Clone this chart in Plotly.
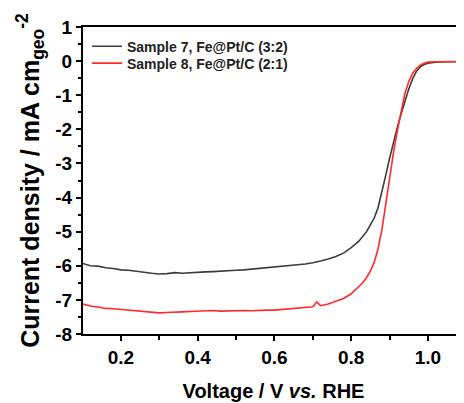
import plotly.graph_objects as go

# LSV curves
VOLTAGE = [0.10, 0.12, 0.14, 0.16, 0.18, 0.20, 0.22, 0.24, 0.26, 0.28,
           0.30, 0.32, 0.34, 0.36, 0.38, 0.40, 0.42, 0.44, 0.46, 0.48,
           0.50, 0.52, 0.54, 0.56, 0.58, 0.60, 0.62, 0.64, 0.66, 0.68,
           0.70, 0.71, 0.72, 0.74, 0.76, 0.78, 0.80, 0.82, 0.83, 0.84,
           0.85, 0.86, 0.87, 0.88, 0.89, 0.90, 0.91, 0.92, 0.93, 0.94,
           0.95, 0.96, 0.97, 0.98, 0.99, 1.00, 1.02, 1.05, 1.08, 1.10]

SAMPLE_7 = [-5.93, -6.00, -6.01, -6.06, -6.08, -6.12, -6.13, -6.17, -6.19, -6.22,
            -6.24, -6.23, -6.20, -6.22, -6.20, -6.19, -6.18, -6.17, -6.15, -6.14,
            -6.13, -6.12, -6.10, -6.09, -6.07, -6.05, -6.03, -6.01, -5.98, -5.95,
            -5.91, -5.89, -5.86, -5.80, -5.73, -5.63, -5.47, -5.28, -5.15, -5.00,
            -4.80, -4.60, -4.30, -3.85, -3.35, -2.85, -2.38, -1.95, -1.55, -1.18,
            -0.82, -0.52, -0.30, -0.17, -0.10, -0.06, -0.03, -0.02, -0.02, -0.02]

SAMPLE_8 = [-7.12, -7.18, -7.21, -7.25, -7.26, -7.28, -7.30, -7.32, -7.33, -7.36,
            -7.38, -7.37, -7.35, -7.35, -7.34, -7.33, -7.33, -7.31, -7.33, -7.32,
            -7.31, -7.31, -7.32, -7.30, -7.30, -7.30, -7.28, -7.27, -7.25, -7.23,
            -7.20, -7.06, -7.17, -7.12, -7.05, -6.96, -6.82, -6.62, -6.50, -6.35,
            -6.15, -5.90, -5.50, -4.95, -4.20, -3.35, -2.70, -2.05, -1.45, -0.95,
            -0.60, -0.36, -0.22, -0.12, -0.06, -0.03, -0.02, -0.01, -0.01, -0.01]

LABELS = ["Sample 7, Fe@Pt/C (3:2)", "Sample 8, Fe@Pt/C (2:1)"]
COLORS = ["#3c3c3c", "#ff2a2a"]

X_TICKS = [0.2, 0.4, 0.6, 0.8, 1.0]
X_TICK_TEXT = ["0.2", "0.4", "0.6", "0.8", "1.0"]
Y_TICKS = [1, 0, -1, -2, -3, -4, -5, -6, -7, -8]
Y_TICK_TEXT = ["1", "0", "-1", "-2", "-3", "-4", "-5", "-6", "-7", "-8"]

FONT = "Arial, Liberation Sans, sans-serif"

fig = go.Figure()
# one legend per trace so the two rows can sit as close as in the original
for label, values, color, legend in zip(LABELS, [SAMPLE_7, SAMPLE_8], COLORS, ["legend", "legend2"]):
    fig.add_trace(go.Scatter(x=VOLTAGE, y=values, mode="lines", name=label, legend=legend,
                             line=dict(color=color, width=1.6)))

axis_common = dict(
    showgrid=False,
    zeroline=False,
    showline=True,
    automargin=False,
    linecolor="black",
    linewidth=2,
    ticks="outside",
    tickcolor="black",
    tickwidth=1.5,
    ticklen=5,
    tickfont=dict(family=FONT, size=19, color="black", weight="bold"),
)

fig.update_xaxes(
    range=[0.101, 1.094],
    tickvals=X_TICKS,
    ticktext=X_TICK_TEXT,
    mirror=True,
    minor=dict(dtick=0.1, tick0=0.1, ticks="outside", ticklen=4, tickcolor="black", tickwidth=1.5),
    title=dict(text="Voltage / V <i>vs.</i> RHE", font=dict(family=FONT, size=20, color="black", weight="bold"),
               standoff=17),
    **axis_common,
)
fig.update_yaxes(
    range=[-8, 1],
    tickvals=Y_TICKS,
    ticktext=Y_TICK_TEXT,
    minor=dict(dtick=0.5, ticks="outside", ticklen=3, tickcolor="black", tickwidth=1.5),
    title=dict(text="Current density / mA cm<sub>geo</sub><sup>-2</sup>",
               font=dict(family=FONT, size=25, color="black", weight="bold"), standoff=9),
    **axis_common,
)

legend_style = dict(
    xanchor="left", yanchor="top",
    bgcolor="rgba(0,0,0,0)",
    font=dict(family=FONT, size=14, color="#222222", weight="bold"),
    itemwidth=30,
)

# page body adds 8px on the left/top, so the figure is 8px smaller than the window
fig.update_layout(
    width=456,
    height=395,
    margin=dict(l=75, r=0, t=19, b=69),
    plot_bgcolor="white",
    paper_bgcolor="white",
    showlegend=True,
    legend=dict(x=0.0105, y=0.988, **legend_style),
    legend2=dict(x=0.0105, y=0.933, **legend_style),
)

fig.write_html("out.html")
